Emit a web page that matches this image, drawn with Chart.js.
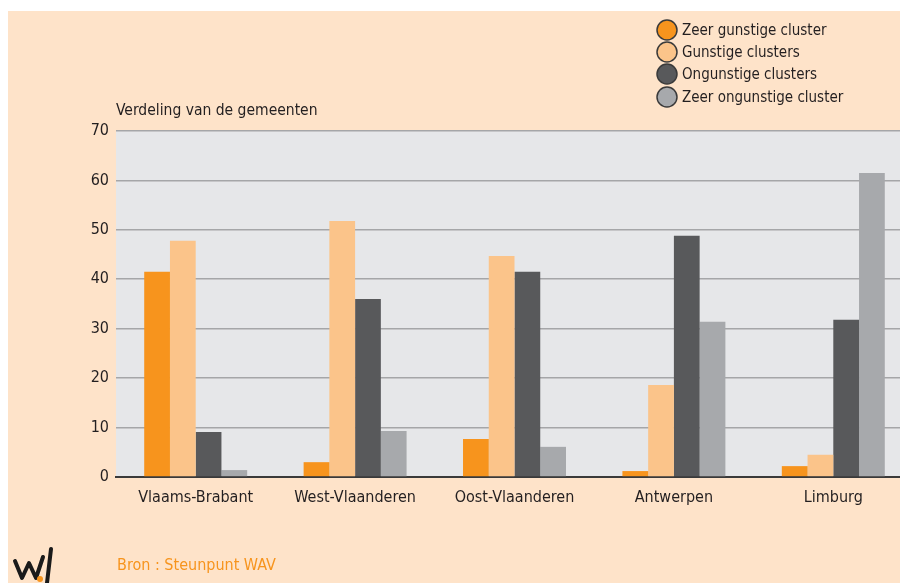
<!DOCTYPE html>
<html><head><meta charset="utf-8">
<script src="https://cdn.jsdelivr.net/npm/chart.js@4"></script>
<style>
html,body{margin:0;padding:0;background:#fff;overflow:hidden;width:900px;height:583px}
#wrap{position:absolute;left:0;top:0;width:913px;height:583px}
</style></head>
<body><div id="wrap"><canvas id="c" width="913" height="583"></canvas></div>
<script>
const categories=["Vlaams-Brabant","West-Vlaanderen","Oost-Vlaanderen","Antwerpen","Limburg"];
const seriesNames=["Zeer gunstige cluster","Gunstige clusters","Ongunstige clusters","Zeer ongunstige cluster"];
const zeerGunstig=[41.5,3.0,7.7,1.2,2.2];
const gunstig=[47.8,51.8,44.7,18.6,4.5];
const ongunstig=[9.1,36.0,41.5,48.8,31.8];
const zeerOngunstig=[1.4,9.3,6.1,31.4,61.5];
const yTicks=[0,10,20,30,40,50,60,70];
const yTitle="Verdeling van de gemeenten";
const source="Bron : Steunpunt WAV";

const colors=["#f7941d","#fbc48a","#58595b","#a7a9ac"];
const FONT="'Liberation Sans Narrow','Arial Narrow','DejaVu Sans Condensed',sans-serif";
const TXT="#231f20";

const deco={
  id:'deco',
  beforeDraw(chart){
    const c=chart.ctx, a=chart.chartArea;
    c.save();
    c.fillStyle='#fff';c.fillRect(0,0,chart.width,chart.height);
    c.fillStyle='#fee3c9';c.fillRect(8,11,chart.width,chart.height);
    c.fillStyle='#e6e7e9';c.fillRect(a.left,a.top,a.right-a.left,a.bottom-a.top);
    c.restore();
  },
  afterDraw(chart){
    const c=chart.ctx;
    c.save();
    c.textBaseline='middle';
    // legend
    c.font="15px "+FONT;
    const ys=[30,52,74,97];
    chart.data.datasets.forEach((ds,i)=>{
      c.beginPath();c.arc(667,ys[i],10,0,Math.PI*2);
      c.fillStyle=ds.backgroundColor;c.fill();
      c.lineWidth=1.5;c.strokeStyle='#3a3a3a';c.stroke();
      c.fillStyle=TXT;c.textAlign='left';
      c.fillText(ds.label,682,ys[i]+1);
    });
    // y title
    c.font="15.5px "+FONT;
    c.fillStyle=TXT;c.textAlign='left';
    c.fillText(yTitle,116,111);
    // source
    c.font="16px "+FONT;
    c.fillStyle='#f7941d';
    c.fillText(source,117,566);
    // logo
    c.strokeStyle='#1a1a1a';c.lineWidth=4;c.lineJoin='round';c.lineCap='round';
    c.beginPath();c.moveTo(15,561);c.lineTo(22,578);c.lineTo(29,563);c.lineTo(36,578);c.lineTo(43,557);c.stroke();
    c.beginPath();c.moveTo(51,549);c.lineTo(47,583);c.stroke();
    c.fillStyle='#f7941d';c.beginPath();c.arc(40,579,3,0,Math.PI*2);c.fill();
    c.restore();
  }
};

new Chart(document.getElementById('c'),{
  type:'bar',
  data:{
    labels:categories,
    datasets:[
      {label:seriesNames[0],data:zeerGunstig,backgroundColor:colors[0]},
      {label:seriesNames[1],data:gunstig,backgroundColor:colors[1]},
      {label:seriesNames[2],data:ongunstig,backgroundColor:colors[2]},
      {label:seriesNames[3],data:zeerOngunstig,backgroundColor:colors[3]}
    ]
  },
  options:{
    responsive:false,animation:false,
    categoryPercentage:0.646,barPercentage:1,
    layout:{padding:{left:0,top:131,right:0,bottom:0}},
    plugins:{legend:{display:false},tooltip:{enabled:false}},
    scales:{
      x:{
        grid:{display:true,color:'transparent',drawTicks:false},
        border:{display:true,color:'#3a3a3a',width:2},
        ticks:{padding:11,color:TXT,font:{family:FONT,size:16}},
        afterFit(s){s.height=106;}
      },
      y:{
        min:0,max:70,
        afterBuildTicks(s){s.ticks=yTicks.map(v=>({value:v}));},
        grid:{color:(ctx)=>ctx.tick&&ctx.tick.value===0?'transparent':'#a5a6a8',lineWidth:1.6,drawTicks:false},
        border:{display:false},
        ticks:{padding:7,color:TXT,font:{family:FONT,size:16}},
        afterFit(s){s.width=116;}
      }
    }
  },
  plugins:[deco]
});
</script>
</body></html>
